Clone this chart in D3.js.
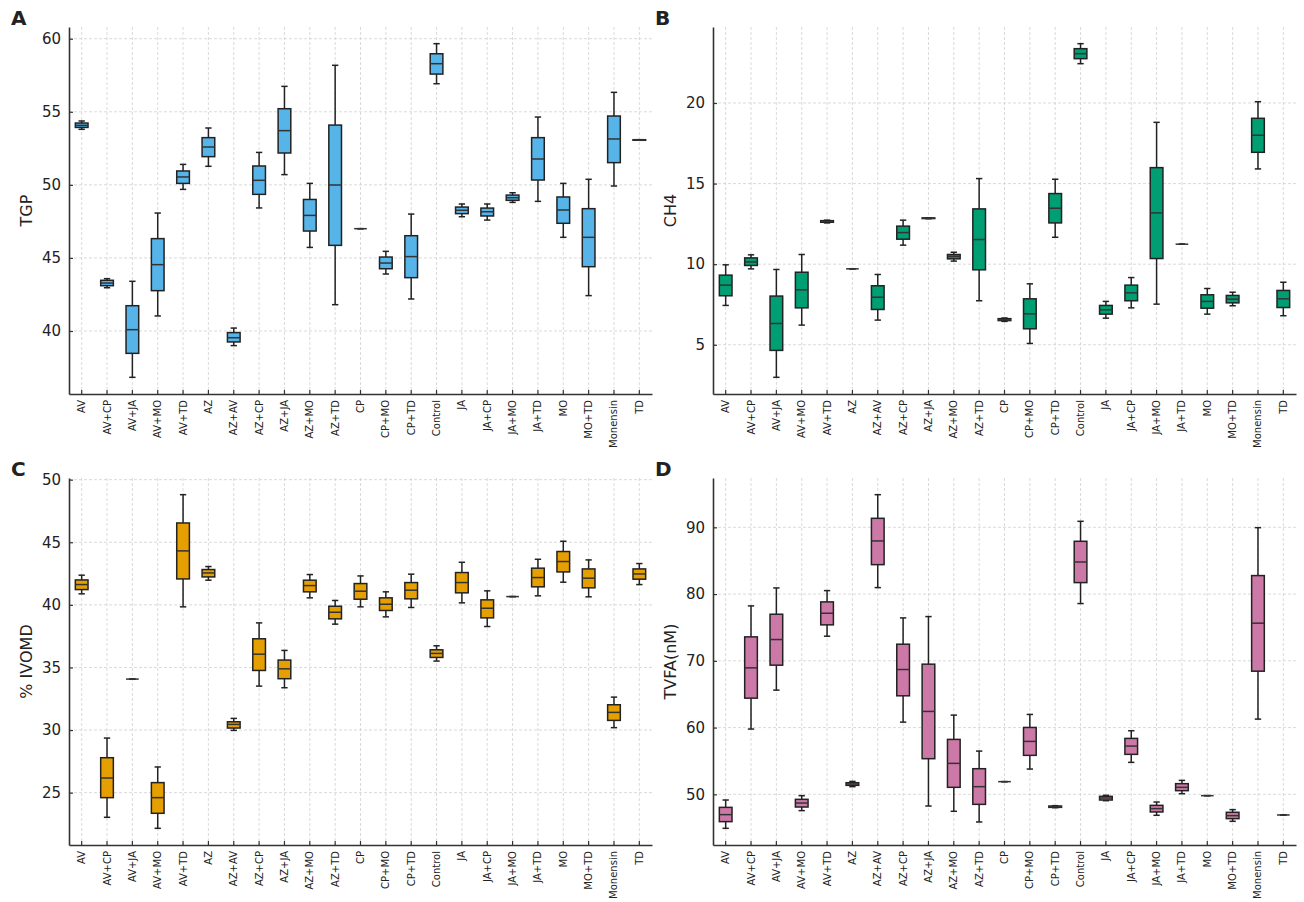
<!DOCTYPE html>
<html>
<head>
<meta charset="utf-8">
<script src="https://cdn.jsdelivr.net/npm/d3@7"></script>
<style>
  body { margin: 0; background: #fff; }
  svg { font-family: "DejaVu Sans", sans-serif; }
</style>
</head>
<body>
<script>
// treatments, same order on every panel
const categories = ["AV","AV+CP","AV+JA","AV+MO","AV+TD","AZ","AZ+AV","AZ+CP","AZ+JA","AZ+MO","AZ+TD",
  "CP","CP+MO","CP+TD","Control","JA","JA+CP","JA+MO","JA+TD","MO","MO+TD","Monensin","TD"];

// each row: [lower whisker, Q1, median, Q3, upper whisker]
const tgp = [
  [53.8,53.93,54.07,54.23,54.37],[42.96,43.1,43.28,43.47,43.58],[36.83,38.47,40.09,41.73,43.4],
  [41.03,42.76,44.54,46.32,48.07],[49.69,50.1,50.54,50.95,51.4],[51.27,51.93,52.59,53.23,53.89],
  [39.0,39.25,39.54,39.89,40.2],[48.42,49.35,50.31,51.29,52.22],[50.7,52.18,53.71,55.21,56.74],
  [45.72,46.84,47.91,49.0,50.1],[41.8,45.86,49.99,54.09,58.18],[47.0,47.0,47.0,47.0,47.0],
  [43.9,44.26,44.65,45.06,45.45],[42.19,43.65,45.09,46.52,48.0],[56.92,57.58,58.29,58.97,59.66],
  [47.82,48.03,48.26,48.48,48.69],[47.59,47.87,48.16,48.41,48.69],[48.8,48.94,49.12,49.3,49.46],
  [48.87,50.33,51.77,53.23,54.64],[46.41,47.37,48.28,49.17,50.1],[42.42,44.4,46.41,48.37,50.38],
  [49.92,51.52,53.14,54.71,56.33],[53.05,53.05,53.07,53.09,53.09]
];
const ch4 = [
  [7.44,8.04,8.7,9.32,9.96],[9.71,9.92,10.14,10.39,10.58],[2.98,4.65,6.32,8.02,9.67],
  [6.22,7.29,8.41,9.5,10.6],[12.56,12.6,12.65,12.7,12.73],[9.71,9.71,9.71,9.71,9.71],
  [6.53,7.19,7.95,8.66,9.36],[11.18,11.55,11.96,12.36,12.73],[12.82,12.83,12.85,12.87,12.88],
  [10.19,10.33,10.48,10.6,10.74],[7.73,9.65,11.53,13.43,15.31],[6.45,6.5,6.55,6.62,6.66],
  [5.08,5.99,6.92,7.85,8.78],[11.67,12.56,13.47,14.38,15.27],[22.44,22.75,23.06,23.37,23.68],
  [6.65,6.9,7.17,7.44,7.69],[7.29,7.73,8.22,8.7,9.17],[7.52,10.35,13.18,15.99,18.8],
  [11.24,11.24,11.24,11.24,11.24],[6.9,7.27,7.69,8.1,8.49],[7.42,7.6,7.83,8.06,8.26],
  [15.91,16.94,18.0,19.05,20.08],[6.8,7.31,7.85,8.37,8.88]
];
const ivomd = [
  [40.88,41.22,41.62,41.99,42.37],[23.03,24.6,26.17,27.79,29.36],[34.07,34.07,34.07,34.07,34.07],
  [22.15,23.35,24.6,25.8,27.05],[39.84,42.07,44.31,46.54,48.8],[41.97,42.23,42.55,42.82,43.06],
  [29.97,30.16,30.45,30.66,30.93],[33.51,34.76,36.06,37.29,38.56],[33.38,34.1,34.89,35.59,36.36],
  [40.56,41.04,41.54,41.97,42.42],[38.46,38.88,39.41,39.89,40.35],[39.84,40.45,41.09,41.7,42.31],
  [39.04,39.55,40.05,40.56,41.04],[39.79,40.48,41.17,41.78,42.45],[35.51,35.8,36.12,36.41,36.73],
  [40.16,40.96,41.78,42.58,43.4],[38.27,38.96,39.73,40.4,41.12],[40.66,40.66,40.66,40.66,40.66],
  [40.72,41.44,42.18,42.93,43.64],[41.81,42.63,43.46,44.26,45.08],[40.64,41.36,42.13,42.87,43.59],
  [30.19,30.77,31.41,32.02,32.63],[41.62,42.05,42.47,42.87,43.3]
];
const tvfa = [
  [44.91,45.91,46.96,48.05,49.15],[59.78,64.41,68.95,73.59,78.23],[65.61,69.35,73.19,76.98,80.92],
  [47.56,48.1,48.7,49.25,49.8],[73.69,75.39,77.13,78.83,80.52],[51.15,51.35,51.55,51.74,51.94],
  [80.97,84.41,87.96,91.35,94.89],[60.82,64.76,68.7,72.49,76.43],[48.25,55.34,62.42,69.5,76.63],
  [47.46,51.05,54.64,58.23,61.87],[45.86,48.5,51.15,53.84,56.48],[51.9,51.9,51.9,51.9,51.9],
  [53.79,55.84,57.93,60.02,61.97],[48.0,48.05,48.15,48.25,48.3],[78.58,81.72,84.81,87.91,90.9],
  [49.05,49.15,49.45,49.7,49.85],[54.79,55.99,57.23,58.38,59.53],[46.86,47.36,47.86,48.35,48.85],
  [50.1,50.55,51.05,51.6,52.09],[49.8,49.8,49.8,49.8,49.8],[45.96,46.36,46.81,47.31,47.71],
  [61.27,68.45,75.64,82.77,89.95],[46.91,46.91,46.91,46.91,46.91]
];

const tgpTicks = [40, 45, 50, 55, 60];
const ch4Ticks = [5, 10, 15, 20];
const ivomdTicks = [25, 30, 35, 40, 45, 50];
const tvfaTicks = [50, 60, 70, 80, 90];

const panels = [
  { letter: "A", label: "TGP", data: tgp, ticks: tgpTicks, color: "#56B4E9", x: 69, y: 27 },
  { letter: "B", label: "CH4", data: ch4, ticks: ch4Ticks, color: "#009E73", x: 713, y: 27 },
  { letter: "C", label: "% IVOMD", data: ivomd, ticks: ivomdTicks, color: "#E69F00", x: 69, y: 478 },
  { letter: "D", label: "TVFA(nM)", data: tvfa, ticks: tvfaTicks, color: "#CC79A7", x: 713, y: 478 }
];

const W = 1304, H = 902;
const PW = 583, PH = 367;

const svg = d3.select("body").append("svg")
  .attr("width", W).attr("height", H);

panels.forEach(function(p) {
  const g = svg.append("g").attr("transform", "translate(" + p.x + "," + p.y + ")");

  // matplotlib-like 5% padding on the data range
  const lo = d3.min(p.data, d => d[0]), hi = d3.max(p.data, d => d[4]);
  const pad = (hi - lo) * 0.05;

  const x = d3.scaleBand().domain(categories).range([0, PW]).padding(0);
  const y = d3.scaleLinear().domain([lo - pad, hi + pad]).range([PH, 0]);
  const bw = x.bandwidth() * 0.5;

  // grid
  g.append("g").selectAll("line").data(p.ticks).join("line")
    .attr("x1", 0).attr("x2", PW)
    .attr("y1", d => y(d)).attr("y2", d => y(d))
    .attr("stroke", "#d0d0d0").attr("stroke-width", 0.8).attr("stroke-dasharray", "3,2");
  g.append("g").selectAll("line").data(categories).join("line")
    .attr("x1", d => x(d) + x.bandwidth() / 2).attr("x2", d => x(d) + x.bandwidth() / 2)
    .attr("y1", 0).attr("y2", PH)
    .attr("stroke", "#d0d0d0").attr("stroke-width", 0.8).attr("stroke-dasharray", "3,2");

  // boxes
  const boxes = g.append("g").selectAll("g").data(p.data).join("g")
    .attr("transform", (d, i) => "translate(" + (x(categories[i]) + x.bandwidth() / 2) + ",0)");

  boxes.append("line")
    .attr("x1", 0).attr("x2", 0)
    .attr("y1", d => y(d[0])).attr("y2", d => y(d[1]))
    .attr("stroke", "#222").attr("stroke-width", 1.5);
  boxes.append("line")
    .attr("x1", 0).attr("x2", 0)
    .attr("y1", d => y(d[3])).attr("y2", d => y(d[4]))
    .attr("stroke", "#222").attr("stroke-width", 1.5);
  boxes.selectAll("line.cap").data(d => [d[0], d[4]]).join("line")
    .attr("class", "cap")
    .attr("x1", -bw / 4).attr("x2", bw / 4)
    .attr("y1", d => y(d)).attr("y2", d => y(d))
    .attr("stroke", "#222").attr("stroke-width", 1.5);
  boxes.append("rect")
    .attr("x", -bw / 2).attr("width", bw)
    .attr("y", d => y(d[3]))
    .attr("height", d => Math.max(0, y(d[1]) - y(d[3])))
    .attr("fill", p.color).attr("stroke", "#222").attr("stroke-width", 1.5);
  boxes.append("line")
    .attr("x1", -bw / 2).attr("x2", bw / 2)
    .attr("y1", d => y(d[2])).attr("y2", d => y(d[2]))
    .attr("stroke", "#333").attr("stroke-width", 1.5);

  // axes, ticks pointing inward
  const yAxis = g.append("g")
    .call(d3.axisLeft(y).tickValues(p.ticks).tickSizeInner(-4).tickSizeOuter(0).tickPadding(8));
  yAxis.select(".domain").attr("stroke", "#333").attr("stroke-width", 1.6);
  yAxis.selectAll(".tick line").attr("stroke", "#333").attr("stroke-width", 1.2);
  yAxis.selectAll(".tick text").attr("font-size", 15).attr("fill", "#222")
    .attr("font-family", "DejaVu Sans");

  const xAxis = g.append("g").attr("transform", "translate(0," + PH + ")")
    .call(d3.axisBottom(x).tickSizeInner(-4).tickSizeOuter(0).tickPadding(6));
  xAxis.select(".domain").attr("stroke", "#333").attr("stroke-width", 1.6);
  xAxis.selectAll(".tick line").attr("stroke", "#333").attr("stroke-width", 1.2);
  xAxis.selectAll(".tick text")
    .attr("font-size", 10).attr("fill", "#222").attr("font-family", "DejaVu Sans")
    .attr("transform", "rotate(-90)")
    .attr("text-anchor", "end")
    .attr("x", -6).attr("y", 0).attr("dy", "0.35em");

  // y label
  g.append("text")
    .attr("transform", "translate(-37," + (PH / 2) + ") rotate(-90)")
    .attr("text-anchor", "middle")
    .attr("font-size", 16).attr("fill", "#222")
    .text(p.label);

  // panel letter
  svg.append("text")
    .attr("x", p.x - 58).attr("y", p.y - 2)
    .attr("font-size", 20).attr("font-weight", "bold").attr("fill", "#222")
    .text(p.letter);
});
</script>
</body>
</html>
